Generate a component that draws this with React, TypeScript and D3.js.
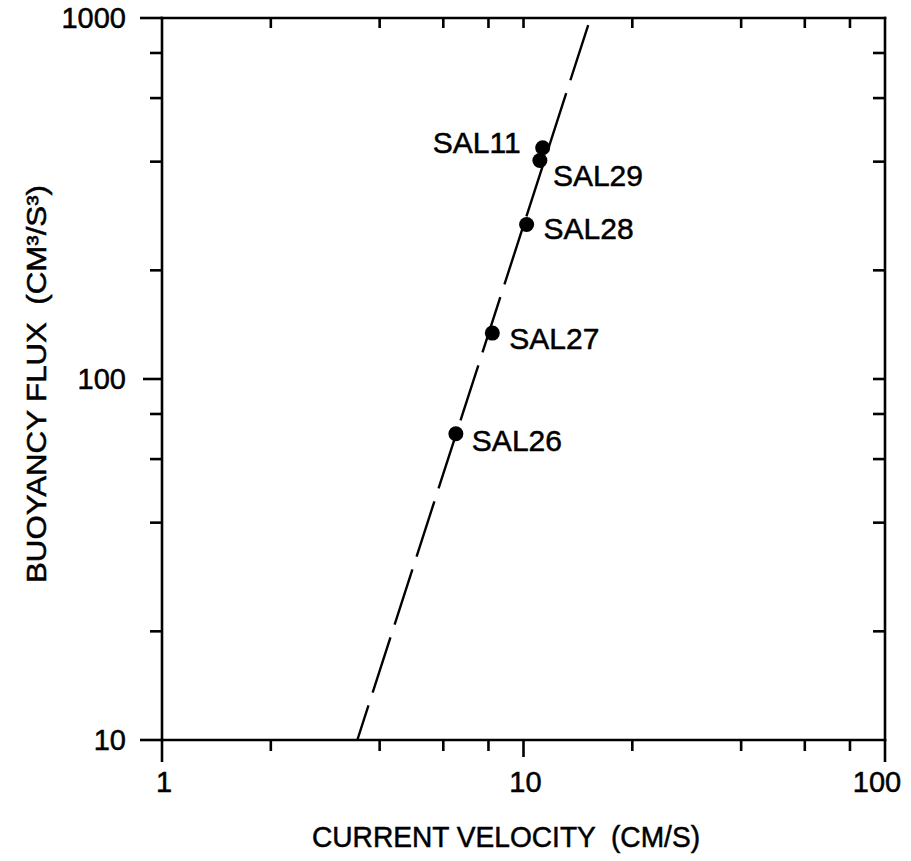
import React from "react";
import * as d3 from "d3";

const stations = ["SAL11", "SAL29", "SAL28", "SAL27", "SAL26"];
const velocity = [11.3, 11.1, 10.2, 8.2, 6.5];
const flux = [437, 403, 268, 134, 70.5];
const labelDx = [-22, 13, 17, 17, 16];
const labelDy = [5, 26, 15, 16, 17];
const labelAnchor = ["end", "start", "start", "start", "start"];

const fitVelocity = [15.1, 3.47];
const fitFlux = [956, 10];

const xMajor = [1, 10, 100];
const xMinor = [2, 4, 6, 8, 20, 40, 60, 80];
const yMajor = [10, 100, 1000];
const yMinor = [20, 40, 60, 80, 200, 400, 600, 800];

const W = 911;
const H = 861;
const L = 162;
const R = 885;
const T = 18;
const B = 740;

export default function App() {
  const x = d3.scaleLog().domain([1, 100]).range([L, R]);
  const y = d3.scaleLog().domain([10, 1000]).range([B, T]);
  const fit = fitVelocity.map((v, i) => [v, fitFlux[i]] as [number, number]);
  const line = d3
    .line<[number, number]>()
    .x((d) => x(d[0]))
    .y((d) => y(d[1]));
  const font = "'Liberation Sans', Arial, Helvetica, sans-serif";
  const sw = 2.6;
  const txt = { fill: "#000", stroke: "#000", strokeWidth: 0.5 };
  return (
    <svg
      width={W}
      height={H}
      viewBox={`0 0 ${W} ${H}`}
      style={{ position: "absolute", left: 0, top: 0, background: "#fff" }}
      fontFamily={font}
    >
      <rect x={0} y={0} width={W} height={H} fill="#fff" />
      <g stroke="#000" strokeWidth={sw} fill="none" strokeLinecap="square">
        <line x1={L} y1={T} x2={R} y2={T} />
        <line x1={L} y1={B} x2={R} y2={B} />
        <line x1={L} y1={T} x2={L} y2={B} />
        <line x1={R} y1={T} x2={R} y2={B} />
      </g>
      <g stroke="#000" strokeWidth={sw}>
        {xMajor.map((v) => (
          <line key={"xb" + v} x1={x(v)} x2={x(v)} y1={B} y2={B + (v === 10 ? 17 : 22)} />
        ))}
        {xMinor.map((v) => (
          <line key={"xbm" + v} x1={x(v)} x2={x(v)} y1={B} y2={B + 11} />
        ))}
        {xMinor.map((v) => (
          <line key={"xt" + v} x1={x(v)} x2={x(v)} y1={T} y2={T + 10} />
        ))}
        <line x1={x(10)} x2={x(10)} y1={T} y2={T + 10} />
        {yMajor.map((v) => (
          <line key={"yl" + v} x1={L - (v === 100 ? 19 : 22)} x2={L} y1={y(v)} y2={y(v)} />
        ))}
        {yMinor.map((v) => (
          <line key={"ylm" + v} x1={L - 12} x2={L} y1={y(v)} y2={y(v)} />
        ))}
        {yMinor.map((v) => (
          <line key={"yr" + v} x1={R - 12} x2={R} y1={y(v)} y2={y(v)} />
        ))}
        <line x1={R - 12} x2={R} y1={y(100)} y2={y(100)} />
      </g>
      <g fontSize={29} {...txt}>
        {xMajor.map((v) => (
          <text key={"xl" + v} x={x(v) + (v === 100 ? -8 : 2)} y={792} textAnchor="middle">
            {String(v)}
          </text>
        ))}
        {yMajor.map((v) => (
          <text key={"yl" + v} x={L - 36} y={y(v)} dy="0.36em" textAnchor="end">
            {String(v)}
          </text>
        ))}
      </g>
      <path
        d={line(fit) || ""}
        fill="none"
        stroke="#000"
        strokeWidth={2.4}
        strokeDasharray="58 13.5"
      />
      <g>
        {stations.map((s, i) => (
          <g key={s}>
            <circle cx={x(velocity[i])} cy={y(flux[i])} r={7.5} fill="#000" />
            <text
              x={x(velocity[i]) + labelDx[i]}
              y={y(flux[i]) + labelDy[i]}
              fontSize={30}
              textAnchor={labelAnchor[i] as any}
              {...txt}
            >
              {s}
            </text>
          </g>
        ))}
      </g>
      <text
        x={506}
        y={847}
        fontSize={29}
        textAnchor="middle"
        textLength={388}
        lengthAdjust="spacingAndGlyphs"
        {...txt}
        style={{ whiteSpace: "pre" }}
      >
        {"CURRENT VELOCITY  (CM/S)"}
      </text>
      <text
        transform={`translate(46,384) rotate(-90)`}
        fontSize={27}
        textAnchor="middle"
        textLength={398}
        lengthAdjust="spacingAndGlyphs"
        {...txt}
        style={{ whiteSpace: "pre" }}
      >
        {"BUOYANCY FLUX  (CM³/S³)"}
      </text>
    </svg>
  );
}
